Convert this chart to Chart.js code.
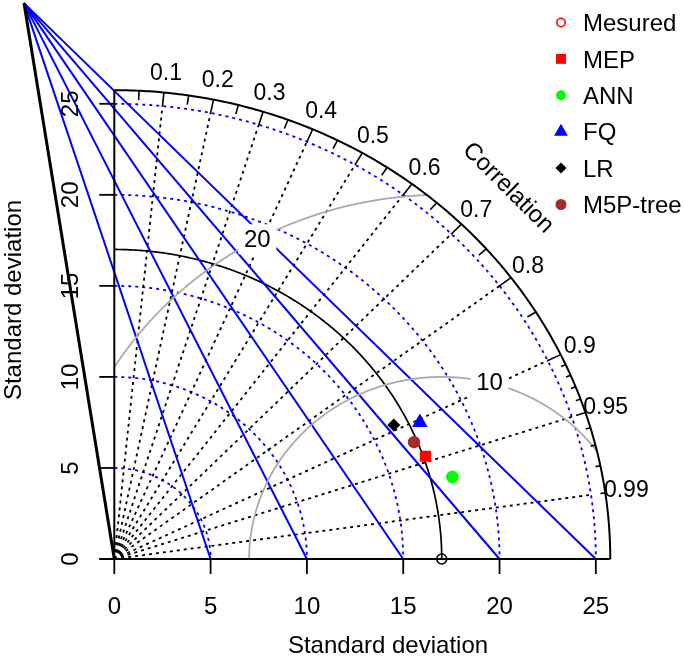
<!DOCTYPE html>
<html>
<head>
<meta charset="utf-8">
<script src="https://cdn.jsdelivr.net/npm/chart.js@4.4.1/dist/chart.umd.min.js"></script>
<style>
    html, body { margin: 0; padding: 0; background: #ffffff; }
    #caixa { width: 685px; height: 662px; }
</style>
</head>
<body>
<div id="caixa"><canvas id="graficoTaylor" width="685" height="662"></canvas></div>
<script>
// ===== DADOS DO DIAGRAMA =====
const modelos = ['MEP', 'ANN', 'FQ', 'LR', 'M5P-tree'];
const desvioModelos = [17.11, 18.12, 17.55, 16.27, 16.83];
const correlModelos = [0.944, 0.9685, 0.904, 0.892, 0.9245];
const rotuloMedido = 'Mesured';
const desvioMedido = 17.0;

const arcosDesvio = [5, 10, 15, 20, 25];
const ticksDesvio = [0, 5, 10, 15, 20, 25];
const linhasCorrel = [0.1, 0.2, 0.3, 0.4, 0.5, 0.6, 0.7, 0.8, 0.9, 0.95, 0.99];
const ticksMedios = [0.05, 0.15, 0.25, 0.35, 0.45, 0.55, 0.65, 0.75, 0.85, 0.95];
const ticksPequenos = [0.91, 0.92, 0.93, 0.94, 0.96, 0.97, 0.98, 0.99];
const contornosRms = [10, 20];

// ===== ESTILOS =====
const FONTE = '"Liberation Sans", Arial, sans-serif';
const estilosModelos = [
    { forma: 'rect', raio: 7.8, cor: '#FF0000', raioLegenda: 7 },
    { forma: 'circle', raio: 6.3, cor: '#00FF00', raioLegenda: 5 },
    { forma: 'triangle', raio: 9, cor: '#0000FF', raioLegenda: 8 },
    { forma: 'rectRot', raio: 6.5, cor: '#000000', raioLegenda: 5.5 },
    { forma: 'circle', raio: 6.2, cor: '#A52A2A', raioLegenda: 5.5 }
];

// ===== UTILITÁRIOS =====
function tracarPolilinha(ctx, pontos) {
    ctx.beginPath();
    pontos.forEach((p, i) => i === 0 ? ctx.moveTo(p[0], p[1]) : ctx.lineTo(p[0], p[1]));
    ctx.stroke();
}

function pontosArco(X, Y, cx, raio, a0, a1) {
    const pts = [];
    const n = 240;
    for (let i = 0; i <= n; i++) {
        const a = a0 + (a1 - a0) * i / n;
        pts.push([X(cx + raio * Math.cos(a)), Y(raio * Math.sin(a))]);
    }
    return pts;
}

function desenharMarcador(ctx, forma, x, y, r, cor, vazio) {
    ctx.save();
    ctx.beginPath();
    if (forma === 'circle') {
        ctx.arc(x, y, r, 0, Math.PI * 2);
    } else if (forma === 'rect') {
        const s = r * Math.SQRT1_2;
        ctx.rect(x - s, y - s, 2 * s, 2 * s);
    } else if (forma === 'triangle') {
        ctx.moveTo(x, y - r);
        ctx.lineTo(x + r * 0.866, y + r * 0.5);
        ctx.lineTo(x - r * 0.866, y + r * 0.5);
        ctx.closePath();
    } else if (forma === 'rectRot') {
        ctx.moveTo(x, y - r);
        ctx.lineTo(x + r, y);
        ctx.lineTo(x, y + r);
        ctx.lineTo(x - r, y);
        ctx.closePath();
    }
    if (vazio) {
        ctx.lineWidth = 1.6;
        ctx.strokeStyle = cor;
        ctx.stroke();
    } else {
        ctx.fillStyle = cor;
        ctx.fill();
    }
    ctx.restore();
}

// ===== PLUGIN DO DIAGRAMA DE TAYLOR =====
const pluginTaylor = {
    id: 'diagramaTaylor',
    beforeDatasetsDraw(chart) {
        const ctx = chart.ctx;
        const X = v => chart.scales.x.getPixelForValue(v);
        const Y = v => chart.scales.y.getPixelForValue(v);
        const raioMax = 25.75;
        const maxArco = 25;

        ctx.save();

        // arcos de desvio padrão (azul pontilhado)
        ctx.strokeStyle = '#0000FF';
        ctx.lineWidth = 1.8;
        ctx.setLineDash([3, 4]);
        arcosDesvio.forEach(r => tracarPolilinha(ctx, pontosArco(X, Y, 0, r, Math.PI / 2, 0)));

        // linhas de correlação (preto pontilhado)
        ctx.strokeStyle = '#000000';
        ctx.lineWidth = 1.8;
        ctx.setLineDash([3, 4]);
        linhasCorrel.forEach(c => {
            const s = Math.sqrt(1 - c * c);
            tracarPolilinha(ctx, [[X(0), Y(0)], [X(maxArco * c), Y(maxArco * s)]]);
        });

        // arco do desvio medido
        ctx.setLineDash([]);
        ctx.lineWidth = 1.7;
        tracarPolilinha(ctx, pontosArco(X, Y, 0, desvioMedido, Math.PI / 2, 0));

        // linhas azuis a partir do vértice
        const vertice = { x: -4.69, y: 30.53 };
        ctx.strokeStyle = '#0000FF';
        ctx.lineWidth = 2;
        arcosDesvio.forEach(v => tracarPolilinha(ctx, [[X(vertice.x), Y(vertice.y)], [X(v), Y(0)]]));
        ctx.strokeStyle = '#000000';
        ctx.lineWidth = 3;
        tracarPolilinha(ctx, [[X(vertice.x), Y(vertice.y)], [X(0), Y(0)]]);

        // contornos de RMSD (cinza)
        ctx.strokeStyle = '#ABABAB';
        ctx.lineWidth = 1.8;
        contornosRms.forEach(g => {
            const pts = [];
            for (let a = 0; a <= Math.PI; a += 0.002) {
                const xx = desvioMedido + g * Math.cos(a);
                const yy = g * Math.sin(a);
                if (xx >= 0 && xx * xx + yy * yy <= raioMax * raioMax) pts.push([X(xx), Y(yy)]);
            }
            tracarPolilinha(ctx, pts);
        });

        // rótulos dos contornos com caixa branca
        ctx.font = '24px ' + FONTE;
        ctx.textAlign = 'center';
        ctx.textBaseline = 'middle';
        contornosRms.forEach((g, i) => {
            const ang = (contornosRms.length > 1 ? 44 + 25 * i / (contornosRms.length - 1) : 44) * 0.03;
            const lx = X(desvioMedido + g * Math.cos(ang));
            const ly = Y(g * Math.sin(ang));
            ctx.fillStyle = '#FFFFFF';
            ctx.fillRect(lx - 19, ly - 15, 38, 30);
            ctx.fillStyle = '#000000';
            ctx.fillText(String(g), lx, ly + 1);
        });

        // arco externo e marcas de correlação
        ctx.strokeStyle = '#000000';
        ctx.lineWidth = 2;
        tracarPolilinha(ctx, pontosArco(X, Y, 0, raioMax, Math.PI / 2, 0));
        const marca = (lista, f) => lista.forEach(c => {
            const s = Math.sqrt(1 - c * c);
            tracarPolilinha(ctx, [[X(raioMax * c), Y(raioMax * s)], [X(raioMax * f * c), Y(raioMax * f * s)]]);
        });
        ctx.lineWidth = 1.6;
        marca(linhasCorrel.filter(c => c <= 0.9), 0.97);
        marca(ticksMedios, 0.98);
        marca(ticksPequenos, 0.99);

        // rótulos de correlação
        ctx.font = '23px ' + FONTE;
        ctx.fillStyle = '#000000';
        linhasCorrel.forEach(c => {
            const s = Math.sqrt(1 - c * c);
            ctx.fillText(String(c), X(26.85 * c), Y(26.85 * s) + 1);
        });

        ctx.save();
        ctx.font = '24px ' + FONTE;
        ctx.translate(508, 188);
        ctx.rotate(Math.PI / 4);
        ctx.fillText('Correlation', 0, 0);
        ctx.restore();

        // eixos
        ctx.lineWidth = 2;
        tracarPolilinha(ctx, [[X(0) - 15, Y(0)], [X(raioMax), Y(0)]]);
        tracarPolilinha(ctx, [[X(0), Y(0)], [X(0), Y(raioMax)]]);
        ctx.lineWidth = 1.8;
        ctx.font = '24px ' + FONTE;
        ticksDesvio.forEach(v => {
            tracarPolilinha(ctx, [[X(v), Y(0)], [X(v), Y(0) + 15]]);
            tracarPolilinha(ctx, [[X(0) - 15, Y(v)], [X(0), Y(v)]]);
            ctx.fillText(String(v), X(v), Y(0) + 48);
            ctx.save();
            ctx.translate(X(0) - 43, Y(v));
            ctx.rotate(-Math.PI / 2);
            ctx.fillText(String(v), 0, 0);
            ctx.restore();
        });

        ctx.fillText('Standard deviation', 388, 646);
        ctx.save();
        ctx.translate(14, 300);
        ctx.rotate(-Math.PI / 2);
        ctx.fillText('Standard deviation', 0, 0);
        ctx.restore();

        ctx.restore();
    },
    afterDatasetsDraw(chart) {
        // ===== LEGENDA =====
        const ctx = chart.ctx;
        ctx.save();
        ctx.font = '24px ' + FONTE;
        ctx.textAlign = 'left';
        ctx.textBaseline = 'middle';
        ctx.fillStyle = '#000000';
        const itens = [{ nome: rotuloMedido, forma: 'circle', cor: '#FF0000', raio: 4.2, vazio: true }]
            .concat(modelos.map((m, i) => ({ nome: m, forma: estilosModelos[i].forma, cor: estilosModelos[i].cor, raio: estilosModelos[i].raioLegenda, vazio: false })));
        itens.forEach((item, i) => {
            const y = 23.5 + i * 36.4;
            desenharMarcador(ctx, item.forma, 561, y - 1, item.raio, item.cor, item.vazio);
            ctx.fillStyle = '#000000';
            ctx.fillText(item.nome, 583, y + 1);
        });
        ctx.restore();
    }
};

// ===== MONTAGEM DOS DATASETS =====
const conjuntos = [{
    label: rotuloMedido,
    data: [{ x: desvioMedido, y: 0 }],
    pointStyle: 'circle',
    pointRadius: 5,
    backgroundColor: 'rgba(0,0,0,0)',
    borderColor: '#000000',
    borderWidth: 1.6
}].concat(modelos.map((nome, i) => {
    const c = correlModelos[i];
    const sd = desvioModelos[i];
    return {
        label: nome,
        data: [{ x: sd * c, y: sd * Math.sqrt(1 - c * c) }],
        pointStyle: estilosModelos[i].forma,
        pointRadius: estilosModelos[i].raio,
        backgroundColor: estilosModelos[i].cor,
        borderColor: estilosModelos[i].cor,
        borderWidth: 0
    };
}));

// ===== INICIALIZAÇÃO =====
const ctx = document.getElementById('graficoTaylor').getContext('2d');
const grafico = new Chart(ctx, {
    type: 'scatter',
    data: { datasets: conjuntos },
    options: {
        responsive: false,
        animation: false,
        layout: { padding: 0, autoPadding: false },
        plugins: {
            legend: { display: false },
            tooltip: { enabled: false }
        },
        scales: {
            x: { type: 'linear', display: false, min: -5.935, max: 29.63 },
            y: { type: 'linear', display: false, min: -5.656, max: 30.70 }
        }
    },
    plugins: [pluginTaylor]
});
</script>
</body>
</html>
